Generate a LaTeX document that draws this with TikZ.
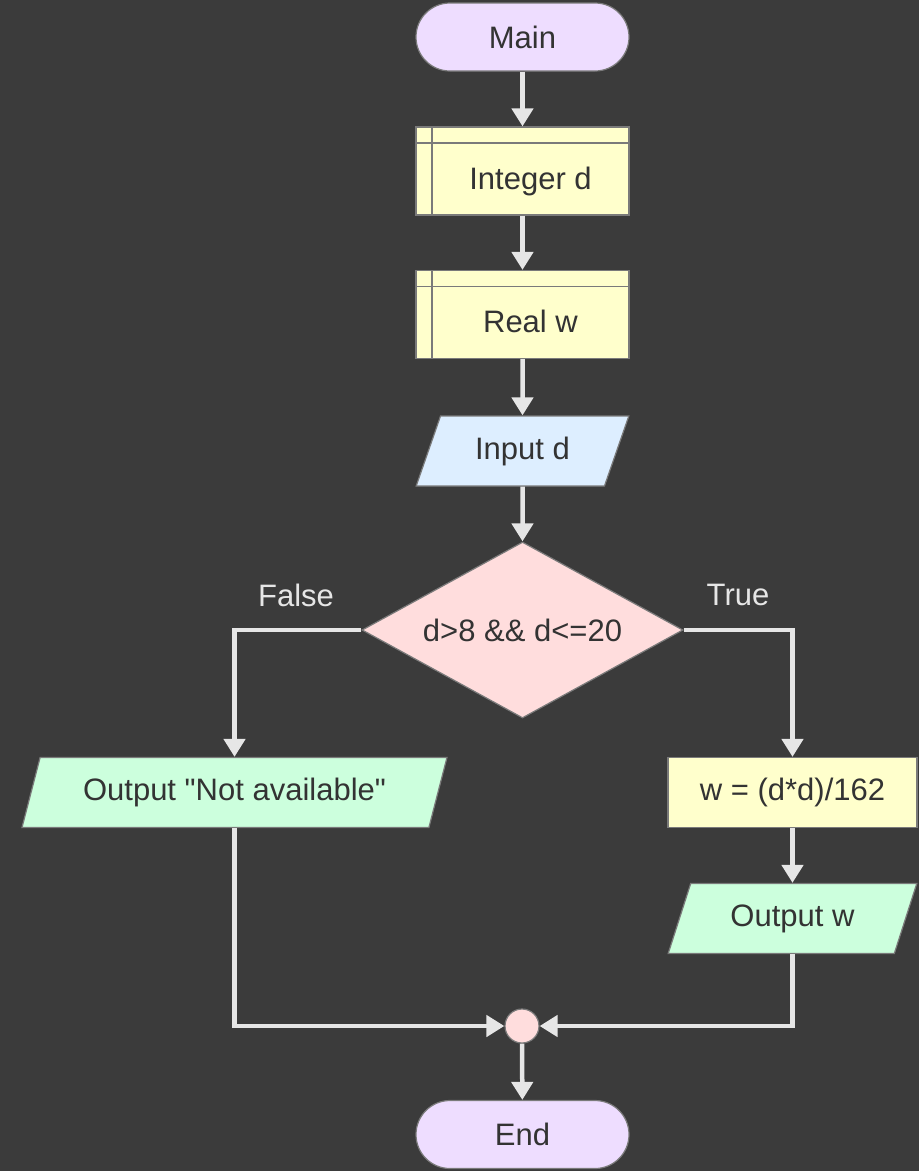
\documentclass[tikz,border=0pt]{standalone}
\usepackage{fontspec}
\setmainfont{Liberation Sans}[Ligatures=TeXOff]
\usetikzlibrary{shapes.geometric,arrows.meta}
\definecolor{bgc}{HTML}{3B3B3B}
\definecolor{edgec}{HTML}{7A7A7A}
\definecolor{txtc}{HTML}{333333}
\definecolor{arrc}{HTML}{E6E6E6}
\definecolor{termc}{HTML}{EEDDFF}
\definecolor{declc}{HTML}{FFFFCC}
\definecolor{inc}{HTML}{DDEEFF}
\definecolor{decc}{HTML}{FFDDDD}
\definecolor{outc}{HTML}{CCFFDD}

\begin{document}
\begin{tikzpicture}[x=1pt,y=-1pt,
  font=\fontsize{31}{37}\selectfont, text=txtc,
  base/.style={draw=edgec, line width=1.2pt, inner sep=0pt},
  term/.style={base, fill=termc, rounded corners=34pt, minimum width=213pt, minimum height=68pt},
  decl/.style={base, fill=declc, minimum width=213pt, minimum height=88pt,
    text height=42pt, text depth=6pt, execute at begin node=\hspace*{16pt},
    path picture={\draw[edgec, line width=1.2pt]
      ([xshift=16pt]path picture bounding box.north west) -- ([xshift=16pt]path picture bounding box.south west)
      ([yshift=-16pt]path picture bounding box.north west) -- ([yshift=-16pt]path picture bounding box.north east);}},
  io/.style={base, trapezium, trapezium left angle=64, trapezium right angle=116,
    trapezium stretches=true, minimum height=70pt},
  proc/.style={base, fill=declc, minimum width=249pt, minimum height=70pt},
  cond/.style={base, diamond, fill=decc, aspect=1.82, minimum width=321pt, minimum height=176pt},
  joint/.style={base, circle, fill=decc, minimum size=34pt},
  lbl/.style={text=arrc},
  flow/.style={draw=arrc, line width=4.5pt, -{Triangle[width=21pt,length=18pt]}},
  link/.style={draw=arrc, line width=4.5pt}
]
\fill[bgc] (0,0) rectangle (919,1171);
\useasboundingbox (0,0) rectangle (919,1171);

\node[term] (main) at (522.5,37) {Main};
\node[decl] (intd) at (522.5,171) {Integer d};
\node[decl] (realw) at (522.5,314.5) {Real w};
\node[io, fill=inc, minimum width=213pt] (inpd) at (522.5,451) {Input d};
\node[cond] (dec) at (522.5,630) {d>8 \&\& d<=20};
\node[io, fill=outc, minimum width=427pt] (nona) at (234.5,792.5) {Output "Not available"};
\node[proc] (calc) at (792.5,792.5) {w = (d*d)/162};
\node[io, fill=outc, minimum width=249pt] (outw) at (792.5,918.5) {Output w};
\node[joint] (join) at (522,1026) {};
\node[term] (endn) at (522.5,1134.5) {End};

\node[lbl] (lfalse) at (296,595) {False};
\node[lbl] (ltrue) at (738,595) {True};

\draw[flow] (main) -- (intd);
\draw[flow] (intd) -- (realw);
\draw[flow] (realw) -- (inpd);
\draw[flow] (inpd) -- (dec);
\draw[flow] (dec.west) -| (nona.north);
\draw[flow] (dec.east) -| (calc.north);
\draw[flow] (calc) -- (outw);
\draw[flow] (nona.south) |- (join.west);
\draw[flow] (outw.south) |- (join.east);
\draw[flow] (join) -- (endn);
\end{tikzpicture}
\end{document}
